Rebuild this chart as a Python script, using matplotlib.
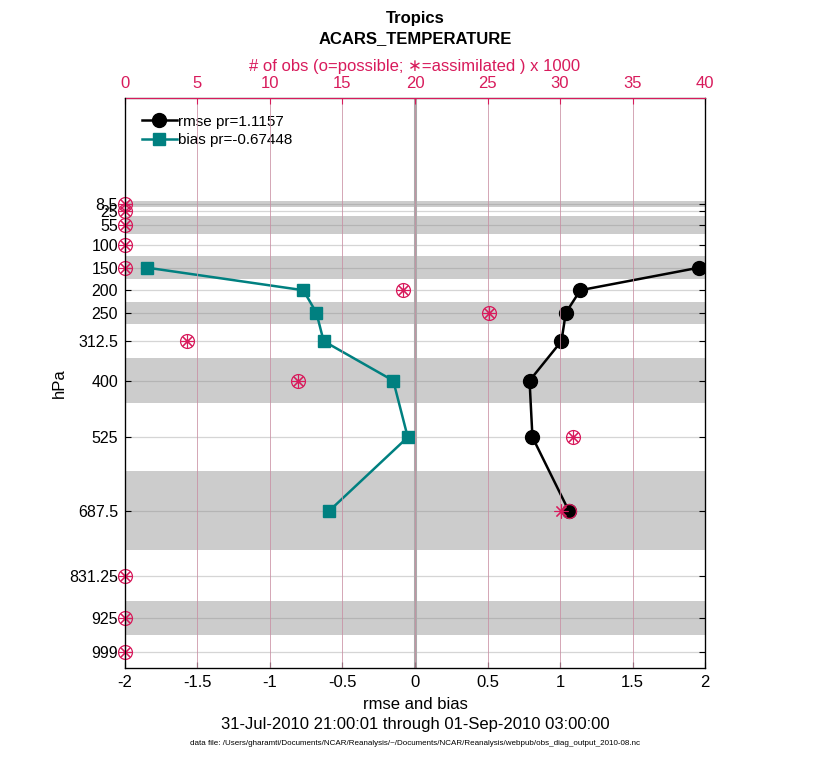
import numpy as np
import matplotlib
matplotlib.use('Agg')
import matplotlib.pyplot as plt

plt.rcParams['font.family'] = ['Liberation Sans', 'DejaVu Sans']

# ------------------------------------------------------------
# donnees
# ------------------------------------------------------------
levels = [8.5, 25, 55, 100, 150, 200, 250, 312.5, 400, 525, 687.5, 831.25, 925, 999]
level_labels = ['8.5', '25', '55', '100', '150', '200', '250', '312.5', '400', '525',
                '687.5', '831.25', '925', '999']
edges = [2, 15, 35, 75, 125, 175, 225, 275, 350, 450, 600, 775, 887.5, 962.5, 1035.5]

curve_levels = [150, 200, 250, 312.5, 400, 525, 687.5]
rmse = [1.96, 1.14, 1.04, 1.01, 0.79, 0.81, 1.06]
bias = [-1.85, -0.77, -0.68, -0.63, -0.15, -0.05, -0.59]

nposs = [0, 0, 0, 0, 0, 19.2, 25.1, 4.3, 11.9, 30.9, 30.6, 0, 0, 0]
nused = [0, 0, 0, 0, 0, 19.2, 25.1, 4.3, 11.9, 30.9, 30.1, 0, 0, 0]

rmse_label = 'rmse pr=1.1157'
bias_label = 'bias pr=-0.67448'

crimson = '#D81B5C'
teal = '#008080'
grid_pink = '#C98FA3'

# ------------------------------------------------------------
# figure
# ------------------------------------------------------------
fig = plt.figure(figsize=(8.3, 7.6), dpi=100)
ax = fig.add_axes([0.1506, 0.121, 0.6988, 0.750])

# bandes grises (une couche sur deux)
band_idx = [0, 2, 4, 6, 8, 10, 12]
for i in band_idx:
    ax.axhspan(edges[i], edges[i + 1], color='#CCCCCC', zorder=0, lw=0)

for lev in levels:
    ax.axhline(lev, color='#888888', alpha=0.35, lw=0.9, zorder=1)
ax.axvline(0, color='#AAAAAA', lw=2.2, zorder=1)

ax.plot(rmse, curve_levels, '-o', color='black', lw=1.8, ms=10, zorder=3, label=rmse_label)
ax.plot(bias, curve_levels, '-s', color=teal, lw=1.8, ms=8.5, zorder=3, label=bias_label)

ax.set_xlim(-2, 2)
ax.set_ylim(1035.5, -225)
ax.set_xticks(np.arange(-2, 2.01, 0.5))
ax.set_xticklabels(['-2', '-1.5', '-1', '-0.5', '0', '0.5', '1', '1.5', '2'])
ax.set_yticks(levels)
ax.set_yticklabels(level_labels)
ax.tick_params(direction='in', length=4, labelsize=12, right=True, width=0.8, pad=5)
ax.tick_params(axis='y', labelsize=11.5)
ax.set_xlabel('rmse and bias', fontsize=12, labelpad=5)
ax.set_ylabel('hPa', fontsize=12, labelpad=2)
for s in ax.spines.values():
    s.set_linewidth(0.9)
    s.set_zorder(5)

leg = ax.legend(loc='upper left', frameon=False, fontsize=11, handlelength=2.3,
                borderaxespad=0.7, handletextpad=0.1, labelspacing=0.3)

# axe du haut : nombre d'observations
ax2 = ax.twiny()
ax2.set_xlim(0, 40)
ax2.set_xticks(np.arange(0, 41, 5))
ax2.tick_params(axis='x', colors=crimson, direction='in', length=4, labelsize=12, pad=5)
ax2.spines['top'].set_color(crimson)
ax2.xaxis.grid(True, color=grid_pink, lw=0.7, alpha=0.8)
ax2.set_xlabel('# of obs (o=possible; \u2217=assimilated ) x 1000', color=crimson,
               fontsize=12, labelpad=4)
ax2.plot(nposs, levels, 'o', mfc='none', mec=crimson, ms=10, mew=0.9, ls='none',
         zorder=2, clip_on=False)
ax2.plot(nused, levels, marker=(8, 2, 0), color=crimson, ms=10, mew=0.8, ls='none',
         zorder=2, clip_on=False)
gls = ax2.get_xgridlines()
gls[0].set_visible(False)
gls[-1].set_visible(False)
ax2.spines['left'].set_zorder(5)

fig.text(0.5, 0.975, 'Tropics', ha='center', va='center', fontsize=12, fontweight='bold')
fig.text(0.5, 0.949, 'ACARS_TEMPERATURE', ha='center', va='center', fontsize=12,
         fontweight='bold')
fig.text(0.5, 0.047, '31-Jul-2010 21:00:01 through 01-Sep-2010 03:00:00', ha='center',
         va='center', fontsize=12)
fig.text(0.5, 0.022,
         'data file: /Users/gharamti/Documents/NCAR/Reanalysis/~/Documents/NCAR/Reanalysis/webpub/obs_diag_output_2010-08.nc',
         ha='center', va='center', fontsize=5.8)

fig.savefig('out.png', dpi=100)
